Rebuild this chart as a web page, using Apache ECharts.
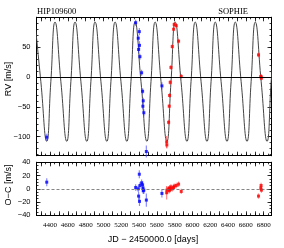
<!DOCTYPE html>
<html><head><meta charset="utf-8">
<script src="https://cdn.jsdelivr.net/npm/echarts@6/dist/echarts.min.js"></script>
<style>html,body{margin:0;padding:0;background:#fff}#c{width:284px;height:248px}</style>
</head><body><div id="c"></div>
<script>
// ---- data ----
const xTickLabels = [4400, 4600, 4800, 5000, 5200, 5400, 5600, 5800, 6000, 6200, 6400, 6600, 6800];
const rvTickLabels = [-100, -50, 0, 50];
const ocTickLabels = [-40, -20, 0, 20, 40];

// Keplerian model curve (extrema and mid-crossings)
const modelJD = [4231, 4297, 4363, 4409, 4456, 4522, 4588, 4634, 4681, 4747, 4813, 4859, 4906, 4972, 5038, 5084, 5131, 5197, 5263, 5309, 5356, 5422, 5488, 5534, 5581, 5647, 5713, 5759, 5806, 5872, 5938, 5984, 6031, 6097, 6163, 6209, 6256, 6322, 6388, 6434, 6481, 6547, 6613, 6659, 6706, 6772, 6838, 6884, 6931];
const modelRV = [92, -8, -108, -8, 92, -8, -108, -8, 92, -8, -108, -8, 92, -8, -108, -8, 92, -8, -108, -8, 92, -8, -108, -8, 92, -8, -108, -8, 92, -8, -108, -8, 92, -8, -108, -8, 92, -8, -108, -8, 92, -8, -108, -8, 92, -8, -108, -8, 92];

// Blue set
const blueJD  = [4363, 5362, 5391, 5395, 5403, 5405, 5410, 5429, 5440, 5447, 5443, 5454, 5482, 5657];
const blueRV  = [-101, 91, 65, 46, 76, 53, 34, 7, -24, -40, -49, -60, -125, -15];
const blueOC  = [10, 2, 0, -11, 22, -19, 5, 9, 6, -3, 1, -2, -17, -7];
const blueErr = [6, 5, 5, 6, 6, 7, 5, 5, 5, 5, 5, 6, 10, 6];

// Red set
const redJD  = [5710, 5712, 5732, 5739, 5743, 5750, 5758, 5773, 5788, 5795, 5818, 5844, 5874, 6742, 6768, 6771, 6775];
const redRV  = [-109, -114, -76, -49, -31, -9, 16, 51, 80, 88, 86, 60, 1, 37, 1, 0, -2];
const redOC  = [-6, -2, 0, -3, 1, -1, 3, 0, 2, 4, 5, 7, -4, -11, 1, 5, -2];
const redErr = [10, 6, 4, 4, 4, 4, 4, 4, 4, 4, 4, 4, 4, 4, 4, 4, 4];

// ---- layout / styles ----
const X_MIN = 4248, X_MAX = 6888;
const RV_MIN = -132, RV_MAX = 100;
const OC_MIN = -40, OC_MAX = 40;
const G_LEFT = 36.5, G_RIGHT = 12.5;
const TOP_GRID = {left: G_LEFT, right: G_RIGHT, top: 17.3, height: 138.4};
const BOT_GRID = {left: G_LEFT, right: G_RIGHT, top: 162.3, height: 53};

function range(a, b, s) { const r = []; for (let v = a; v <= b + 1e-9; v += s) r.push(v); return r; }
const xMajor = range(4300, 6800, 100);
const xMinor = range(4250, 6850, 50);
const rvMajor = rvTickLabels;
const rvMinor = range(-130, 100, 10);
const ocMajor = ocTickLabels;
const ocMinor = range(-40, 40, 5);

function axis(kind, grid, pos, min, max, ticks, len, labels) {
  const a = {
    type: 'value', gridIndex: grid, position: pos, min: min, max: max,
    axisLine: {show: true, onZero: false, lineStyle: {color: '#000', width: 1}},
    axisTick: {show: true, inside: true, length: len, customValues: ticks, lineStyle: {color: '#000', width: 0.8}},
    splitLine: {show: false},
    axisLabel: {show: false}
  };
  if (labels) {
    a.axisLabel = kind === 'x'
      ? {show: true, customValues: labels, fontFamily: 'Liberation Serif', fontSize: 7, color: '#000', margin: 6,
         formatter: v => String(v)}
      : {show: true, customValues: labels, fontFamily: 'Liberation Sans', fontSize: 7.5, color: '#000', margin: 6,
         formatter: v => (v < 0 ? '\u2212' + Math.abs(v) : String(v))};
  }
  return a;
}

function errSeries(xi, yi, jd, val, err, color) {
  return {
    type: 'custom', xAxisIndex: xi, yAxisIndex: yi, silent: true, z: 3,
    data: jd.map((j, i) => [j, val[i] - err[i], val[i] + err[i]]),
    renderItem: function (params, api) {
      const p1 = api.coord([api.value(0), api.value(1)]);
      const p2 = api.coord([api.value(0), api.value(2)]);
      return {type: 'line', shape: {x1: p1[0], y1: p1[1], x2: p2[0], y2: p2[1]},
              style: {stroke: color, lineWidth: 1.2}};
    }
  };
}
function pts(xi, yi, jd, val, color) {
  return {type: 'scatter', xAxisIndex: xi, yAxisIndex: yi, symbol: 'rect', symbolSize: 3, z: 4,
          itemStyle: {color: color}, data: jd.map((j, i) => [j, val[i]])};
}

const option = {
  animation: false,
  backgroundColor: '#fff',
  grid: [TOP_GRID, TOP_GRID, BOT_GRID, BOT_GRID],
  xAxis: [
    axis('x', 0, 'bottom', X_MIN, X_MAX, xMajor, 4),
    axis('x', 0, 'top', X_MIN, X_MAX, xMajor, 4),
    axis('x', 1, 'bottom', X_MIN, X_MAX, xMinor, 2),
    axis('x', 1, 'top', X_MIN, X_MAX, xMinor, 2),
    axis('x', 2, 'bottom', X_MIN, X_MAX, xMajor, 4, xTickLabels),
    axis('x', 2, 'top', X_MIN, X_MAX, xMajor, 4),
    axis('x', 3, 'bottom', X_MIN, X_MAX, xMinor, 2),
    axis('x', 3, 'top', X_MIN, X_MAX, xMinor, 2)
  ],
  yAxis: [
    axis('y', 0, 'left', RV_MIN, RV_MAX, rvMajor, 4, rvTickLabels),
    axis('y', 0, 'right', RV_MIN, RV_MAX, rvMajor, 4),
    axis('y', 1, 'left', RV_MIN, RV_MAX, rvMinor, 2),
    axis('y', 1, 'right', RV_MIN, RV_MAX, rvMinor, 2),
    axis('y', 2, 'left', OC_MIN, OC_MAX, ocMajor, 4, ocTickLabels),
    axis('y', 2, 'right', OC_MIN, OC_MAX, ocMajor, 4),
    axis('y', 3, 'left', OC_MIN, OC_MAX, ocMinor, 2),
    axis('y', 3, 'right', OC_MIN, OC_MAX, ocMinor, 2)
  ],
  series: [
    {type: 'line', xAxisIndex: 0, yAxisIndex: 0, smooth: 0.5, symbol: 'none', silent: true, z: 2,
     lineStyle: {color: '#444', width: 1}, clip: true,
     data: modelJD.map((j, i) => [j, modelRV[i]]),
     markLine: {silent: true, symbol: 'none', label: {show: false}, animation: false,
                lineStyle: {color: '#000', width: 1, type: 'solid'}, data: [{yAxis: 0}]}},
    errSeries(0, 0, blueJD, blueRV, blueErr, 'rgba(60,60,255,0.6)'),
    errSeries(0, 0, redJD, redRV, redErr, 'rgba(255,60,60,0.6)'),
    pts(0, 0, blueJD, blueRV, '#0000ff'),
    pts(0, 0, redJD, redRV, '#ff0000'),
    {type: 'line', xAxisIndex: 4, yAxisIndex: 4, symbol: 'none', silent: true, data: [],
     markLine: {silent: true, symbol: 'none', label: {show: false}, animation: false,
                lineStyle: {color: '#666', width: 0.8, type: [3, 2]}, data: [{yAxis: 0}]}},
    errSeries(4, 4, blueJD, blueOC, blueErr, 'rgba(60,60,255,0.6)'),
    errSeries(4, 4, redJD, redOC, redErr, 'rgba(255,60,60,0.6)'),
    pts(4, 4, blueJD, blueOC, '#0000ff'),
    pts(4, 4, redJD, redOC, '#ff0000')
  ],
  graphic: [
    {type: 'text', x: 37, y: 16, style: {text: 'HIP109600', fontFamily: 'Liberation Serif', fontSize: 8.5, fill: '#000', textAlign: 'left', textVerticalAlign: 'bottom'}},
    {type: 'text', x: 248, y: 16, style: {text: 'SOPHIE', fontFamily: 'Liberation Serif', fontSize: 8.5, fill: '#000', textAlign: 'right', textVerticalAlign: 'bottom'}},
    {type: 'text', x: 9, y: 79, rotation: Math.PI / 2, style: {text: 'RV [m/s]', fontFamily: 'Liberation Sans', fontSize: 9, fill: '#000', textAlign: 'center', textVerticalAlign: 'middle'}},
    {type: 'text', x: 9, y: 185, rotation: Math.PI / 2, style: {text: 'O\u2212C [m/s]', fontFamily: 'Liberation Sans', fontSize: 9, fill: '#000', textAlign: 'center', textVerticalAlign: 'middle'}},
    {type: 'text', x: 153, y: 240, style: {text: 'JD \u2212 2450000.0 [days]', fontFamily: 'Liberation Sans', fontSize: 9, fill: '#000', textAlign: 'center', textVerticalAlign: 'middle'}}
  ]
};
const chart = echarts.init(document.getElementById('c'), null, {renderer: 'canvas'});
chart.setOption(option);
</script></body></html>
